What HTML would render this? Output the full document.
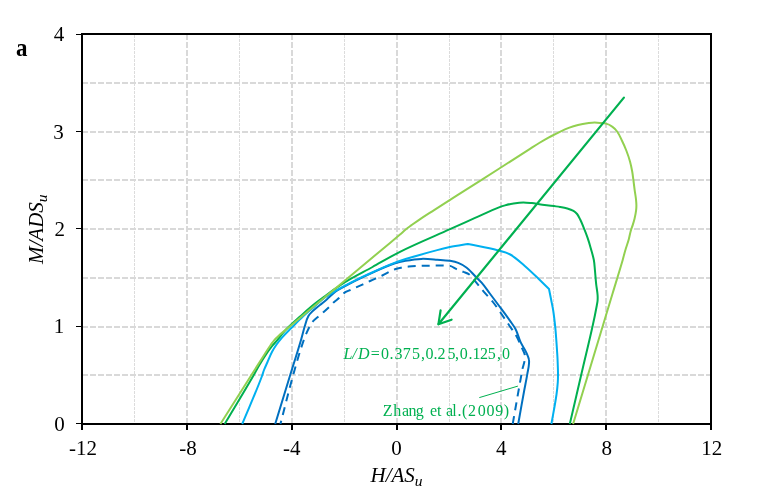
<!DOCTYPE html>
<html><head><meta charset="utf-8">
<style>
html,body{margin:0;padding:0;background:#fff;}
svg{display:block;will-change:transform;}
text{font-family:"Liberation Serif",serif;}
</style></head>
<body>
<svg width="759" height="490" viewBox="0 0 759 490">
<rect width="759" height="490" fill="#fff"/>
<g stroke="#dcdcdc" stroke-width="1" stroke-dasharray="3 1" fill="none">
<path d="M134.5 35V423M239.5 35V423M344.5 35V423M449.5 35V423M553.5 35V423M658.5 35V423"/>
</g>
<g stroke="#d9d9d9" stroke-width="2" stroke-dasharray="6 2" fill="none">
<path d="M187 34V424M292 34V424M397 34V424M501 34V424M606 34V424"/>
<path d="M82 83H711M82 132H711M82 180H711M82 229H711M82 278H711M82 327H711M82 375H711"/>
</g>
<g stroke="#000" fill="none" stroke-width="2">
<path d="M82 33V430"/>
<path d="M711 33V430"/>
<path d="M81 34H712"/>
<path d="M81 424H712"/>
<path d="M187 424V430M292 424V430M397 424V430M501 424V430M606 424V430"/>
<path d="M76 34.5H82M76 131.5H82M76 228.5H82M76 326.5H82M76 423.5H82" stroke-width="1"/>
</g>
<g fill="none" stroke-width="2" stroke-linejoin="round" stroke-linecap="butt">
<path stroke="#0070c0" stroke-dasharray="8 6" d="M512.7 424.0 C515.5 408.0 518.3 391.9 521.2 375.9 C521.6 373.7 521.9 371.4 522.4 369.2 C523.0 366.5 524.1 363.9 524.5 361.2 C524.8 359.2 525.2 357.1 524.9 355.1 C524.5 352.7 523.1 350.6 522.1 348.4 C520.1 343.9 518.2 339.2 515.7 334.9 C513.7 331.3 511.1 328.1 508.8 324.7 C506.1 320.8 503.5 316.9 500.8 313.0 C498.2 309.3 495.7 305.5 492.9 302.0 C490.0 298.4 486.7 295.1 483.7 291.6 C480.7 288.1 477.9 284.3 474.9 280.8 C473.1 278.7 471.6 276.2 469.3 274.5 C467.6 273.2 465.5 272.7 463.5 271.9 C461.2 270.9 458.8 270.2 456.6 269.2 C454.6 268.3 452.9 266.7 450.8 266.1 C448.6 265.5 446.3 265.7 444.0 265.6 C441.7 265.5 439.5 265.6 437.2 265.6 C432.4 265.6 427.7 265.6 422.9 265.8 C418.2 266.0 413.4 266.1 408.7 266.6 C406.2 266.9 403.7 267.2 401.3 267.7 C399.2 268.1 397.0 268.5 395.0 269.2 C390.6 270.8 386.6 273.5 382.3 275.5 C378.3 277.4 374.1 279.1 370.1 281.0 C367.7 282.1 365.4 283.3 363.0 284.4 C361.1 285.3 359.2 286.1 357.3 286.9 C354.9 287.9 352.6 288.9 350.2 290.0 C348.3 290.8 346.3 291.4 344.6 292.6 C342.6 294.0 341.3 296.1 339.5 297.7 C337.7 299.3 335.7 300.6 333.9 302.2 C332.3 303.6 330.9 305.3 329.3 306.8 C327.5 308.5 325.6 310.2 323.7 311.9 C322.1 313.3 320.4 314.7 318.8 316.1 C316.7 317.9 314.5 319.5 312.7 321.6 C311.5 323.1 310.5 324.8 309.6 326.5 C308.2 329.1 307.1 331.8 305.9 334.5 C305.2 336.1 304.6 337.7 304.0 339.3 C300.1 350.5 296.8 362.0 293.6 373.5 C288.9 390.2 284.8 407.2 280.4 424.0"/>
<path stroke="#0070c0" d="M275.2 424.0 C280.1 408.0 285.0 392.0 289.9 376.0 C293.6 364.0 297.5 352.1 301.0 340.0 C302.3 335.5 303.3 331.0 304.7 326.5 C305.8 323.0 306.6 319.3 308.4 316.1 C309.2 314.7 310.3 313.5 311.4 312.4 C313.1 310.6 315.0 309.2 316.9 307.6 C318.5 306.2 320.2 304.9 321.8 303.6 C323.5 302.1 325.3 300.7 327.0 299.2 C329.8 296.7 332.3 293.8 335.4 291.6 C338.3 289.5 341.5 288.0 344.6 286.3 C351.3 282.7 358.1 279.3 365.0 276.1 C374.9 271.5 384.7 266.6 395.0 263.2 C398.4 262.1 402.0 261.4 405.5 260.8 C410.7 259.9 416.0 259.1 421.3 258.9 C426.6 258.7 431.9 259.3 437.2 259.7 C441.4 260.0 445.6 260.1 449.8 260.8 C452.6 261.3 455.5 261.8 458.2 262.9 C461.2 264.1 464.1 265.7 466.7 267.7 C470.0 270.2 472.6 273.6 475.5 276.5 C477.5 278.6 479.7 280.5 481.6 282.7 C484.6 286.1 487.1 289.9 489.8 293.5 C493.5 298.4 497.2 303.3 500.8 308.2 C504.1 312.6 507.4 317.1 510.6 321.6 C512.3 324.0 514.1 326.4 515.5 329.0 C517.7 333.2 518.6 337.9 520.6 342.2 C522.4 346.0 525.0 349.5 526.7 353.3 C527.6 355.3 528.5 357.3 528.9 359.4 C529.2 360.7 529.1 362.1 529.0 363.5 C528.8 367.1 527.9 370.6 527.3 374.1 C526.4 379.4 525.3 384.7 524.3 390.0 C522.2 401.3 520.2 412.7 518.2 424.0"/>
<path stroke="#00b0f0" d="M242.2 424.0 C248.8 408.0 256.0 392.2 262.0 376.0 C262.7 374.0 263.2 372.0 264.0 370.0 C265.0 367.5 266.2 365.0 267.3 362.5 C268.9 358.8 270.3 355.0 272.2 351.5 C273.4 349.2 274.9 347.0 276.4 344.8 C278.1 342.3 280.0 339.9 282.0 337.6 C284.7 334.5 287.6 331.7 290.5 328.8 C294.4 324.9 298.2 320.9 302.2 317.2 C306.3 313.3 310.7 309.7 315.0 306.0 C318.4 303.1 321.6 299.8 325.2 297.2 C328.4 294.9 332.0 293.0 335.4 291.0 C338.4 289.2 341.5 287.5 344.6 285.9 C351.3 282.4 358.1 278.9 365.0 275.7 C374.9 271.1 384.8 266.4 395.0 262.6 C401.9 260.0 409.0 258.1 416.1 256.0 C423.1 253.9 430.1 251.9 437.2 250.1 C441.4 249.0 445.6 248.0 449.8 247.1 C455.8 245.9 461.9 245.0 467.9 244.0 C477.8 246.1 487.8 247.5 497.5 250.2 C501.8 251.4 506.3 252.4 510.2 254.5 C515.5 257.4 519.9 261.8 524.5 265.7 C529.8 270.2 534.8 275.2 539.8 280.0 C542.9 283.0 545.9 286.0 549.0 289.0 C549.7 292.5 550.4 296.0 551.1 299.5 C551.8 303.2 552.6 306.8 553.2 310.5 C554.1 316.2 554.7 321.9 555.3 327.6 C556.0 335.1 556.5 342.5 557.0 350.0 C557.2 353.5 557.5 356.9 557.6 360.4 C557.8 365.2 558.0 369.9 558.0 374.7 C558.0 377.2 558.0 379.7 557.8 382.2 C557.5 386.3 557.1 390.4 556.5 394.5 C555.1 404.4 553.1 414.2 551.4 424.0"/>
<path stroke="#00b050" d="M224.7 424.0 C234.2 408.0 243.9 392.1 253.2 376.0 C255.3 372.3 257.3 368.5 259.5 364.8 C261.7 361.0 264.0 357.2 266.5 353.6 C268.2 351.1 270.1 348.6 272.0 346.2 C273.8 344.0 275.7 342.0 277.5 339.8 C280.0 336.8 282.3 333.5 285.0 330.6 C289.7 325.6 294.9 321.2 300.0 316.6 C304.9 312.2 309.8 307.7 315.0 303.6 C318.3 300.9 321.8 298.5 325.2 296.0 C328.6 293.5 332.0 291.0 335.4 288.6 C338.6 286.4 341.7 284.2 345.0 282.2 C353.9 276.8 363.3 272.1 372.5 267.0 C381.7 261.9 390.6 256.5 400.0 251.8 C416.4 243.6 433.3 236.7 450.0 229.2 C458.2 225.5 466.3 221.8 474.5 218.2 C482.7 214.6 490.7 210.6 499.0 207.4 C501.0 206.6 503.0 206.0 505.0 205.4 C507.8 204.6 510.7 203.9 513.6 203.4 C516.8 202.9 520.1 202.4 523.4 202.4 C526.2 202.4 529.1 202.8 531.9 203.1 C534.4 203.4 536.8 203.9 539.3 204.3 C544.2 205.0 549.1 205.4 554.0 206.1 C556.0 206.4 558.0 206.6 560.0 207.0 C562.4 207.4 564.9 207.8 567.3 208.5 C569.4 209.1 571.6 209.8 573.5 210.9 C574.9 211.7 576.1 212.8 577.1 214.0 C578.4 215.6 579.3 217.6 580.2 219.5 C581.6 222.3 582.7 225.2 583.9 228.1 C585.2 231.3 586.5 234.6 587.6 237.9 C588.7 241.1 589.7 244.4 590.6 247.7 C591.7 251.7 593.0 255.7 593.8 259.8 C594.5 263.4 594.6 267.1 595.0 270.8 C595.4 275.3 595.7 279.8 596.2 284.3 C596.6 288.0 597.4 291.6 597.6 295.3 C597.7 296.9 597.7 298.6 597.6 300.2 C597.5 302.0 597.1 303.7 596.8 305.5 C595.5 312.7 594.0 319.9 592.4 327.0 C589.6 339.7 586.5 352.3 583.5 365.0 C578.9 384.7 574.4 404.3 569.8 424.0"/>
<path stroke="#92d050" d="M220.4 424.0 C230.5 408.0 240.7 392.0 250.8 376.0 C255.2 369.1 259.6 362.1 264.0 355.2 C266.1 351.9 268.2 348.5 270.5 345.2 C271.8 343.4 273.0 341.5 274.5 339.8 C275.9 338.2 277.5 336.9 279.0 335.5 C282.6 332.3 286.3 329.3 290.0 326.2 C308.3 310.9 326.7 295.7 345.0 280.4 C360.0 267.9 375.0 255.4 390.0 242.9 C393.3 240.1 396.7 237.3 400.0 234.5 C402.0 232.8 403.9 231.0 406.0 229.3 C407.9 227.7 410.0 226.3 412.0 224.8 C414.0 223.4 416.0 222.0 418.0 220.6 C423.3 217.0 428.7 213.6 434.1 210.1 C449.4 200.3 464.7 190.6 480.0 180.8 C496.7 170.2 513.3 159.6 530.0 148.9 C533.1 146.9 536.1 144.9 539.2 143.0 C542.3 141.1 545.4 139.3 548.5 137.6 C550.1 136.7 551.8 135.8 553.5 135.0 C555.8 133.8 558.1 132.7 560.4 131.6 C563.1 130.3 565.9 129.0 568.7 127.9 C571.7 126.8 574.8 125.8 578.0 125.0 C581.0 124.3 584.1 123.7 587.2 123.3 C589.7 123.0 592.1 122.6 594.6 122.6 C596.4 122.6 598.2 122.7 600.0 122.9 C602.0 123.1 604.1 123.0 606.1 123.6 C608.3 124.2 610.4 125.3 612.2 126.6 C614.1 127.9 615.7 129.6 617.1 131.5 C619.2 134.3 620.5 137.6 622.0 140.7 C623.6 143.9 625.0 147.2 626.3 150.5 C627.7 154.1 629.0 157.8 630.0 161.5 C630.9 164.8 631.6 168.1 632.2 171.5 C632.7 174.3 633.0 177.2 633.4 180.0 C633.8 183.2 634.2 186.4 634.6 189.6 C635.0 192.9 635.7 196.1 636.0 199.4 C636.2 201.4 636.4 203.5 636.4 205.5 C636.4 207.1 636.3 208.8 636.1 210.4 C635.8 213.1 635.2 215.8 634.6 218.5 C634.1 220.7 633.4 222.9 632.7 225.1 C632.0 227.2 631.2 229.3 630.6 231.4 C629.9 234.0 629.5 236.6 628.8 239.2 C627.9 242.5 626.7 245.7 625.7 249.0 C624.6 252.6 623.7 256.3 622.7 260.0 C619.5 271.0 616.1 281.9 612.8 292.8 C607.9 309.1 602.9 325.5 598.0 341.8 C589.7 369.2 581.4 396.6 573.1 424.0"/>
</g>
<g stroke="#00b050" stroke-width="2.2" fill="none" stroke-linecap="round">
<path d="M623.9 97.6 L438.6 324.0"/>
<path d="M440.6 310.4 L438.4 324.3 L451.6 319.7" stroke-linejoin="round"/>
<path d="M479.3 397.6 L517.9 386.1" stroke-width="1" stroke-linecap="butt"/>
</g>
<g fill="#00b050" font-size="16">
<text x="343.4 352.2 358.0 370.8 380.9 389.5 394.4 402.8 412.0 421.0 425.4 433.6 437.5 447.6 455.0 459.7 468.4 472.4 480.1 487.7 497.1 501.9" y="358.8"><tspan font-style="italic">L/D</tspan>=0.375,0.25,0.125,0</text>
<text x="382.8 393.2 401.9 408.5 415.7 424 430.0 437.1 443 446.0 452.3 457.6 462.1 467.9 477.8 486.5 495.3 503.8" y="415.5">Zhang et al.(2009)</text>
</g>
<g fill="#000" font-size="21" text-anchor="end">
<text x="64.2" y="40.8">4</text>
<text x="63.8" y="138.7">3</text>
<text x="64.9" y="235.9">2</text>
<text x="64.2" y="333">1</text>
<text x="64.7" y="430.7">0</text>
</g>
<g fill="#000" font-size="21" text-anchor="middle">
<text x="83.1" y="454.8">-12</text>
<text x="187.9" y="454.8">-8</text>
<text x="291.75" y="454.8">-4</text>
<text x="396.45" y="454.8">0</text>
<text x="501.25" y="454.8">4</text>
<text x="606.65" y="454.8">8</text>
<text x="711.8" y="454.8">12</text>
</g>
<text x="370.5" y="481.8" font-size="21" font-style="italic">H/AS<tspan font-size="15.5" dy="4.3">u</tspan></text>
<text transform="translate(43.3 264) rotate(-90)" font-size="21" font-style="italic">M/ADS<tspan font-size="15.5" dy="4">u</tspan></text>
<text transform="translate(16 56) scale(0.9 1)" font-size="25.5" font-weight="bold">a</text>
</svg>
</body></html>
